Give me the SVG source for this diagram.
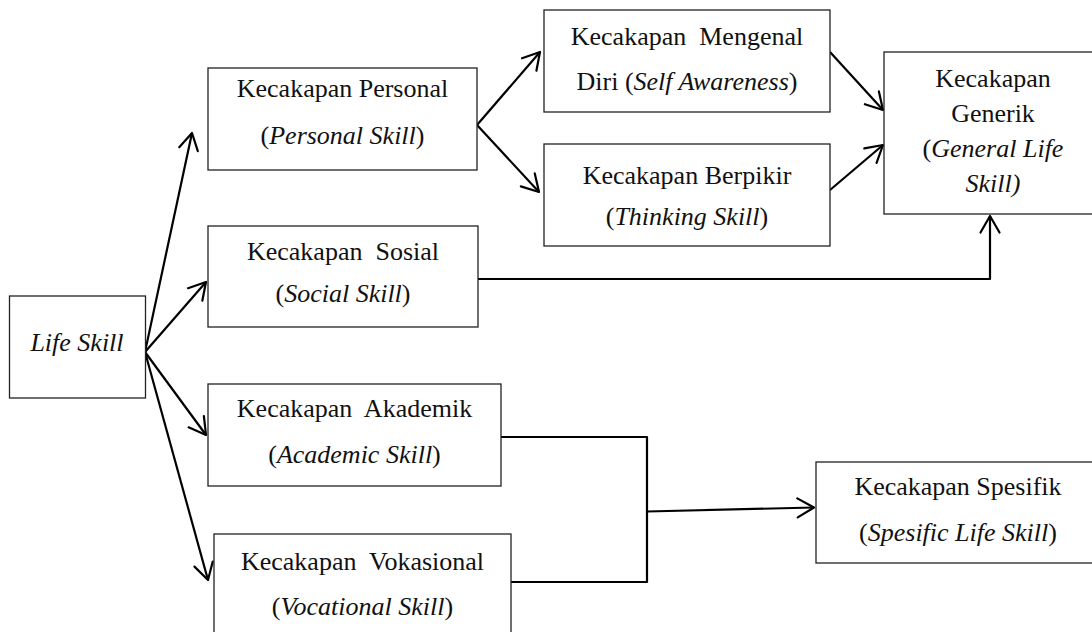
<svg xmlns="http://www.w3.org/2000/svg" width="1092" height="632" viewBox="0 0 1092 632">
<style>
.box{fill:#fff;stroke:#222;stroke-width:1.3}
.t{font-family:"Liberation Serif","Times New Roman",serif;font-size:26px;fill:#111;text-anchor:middle;white-space:pre}
.i{font-style:italic}
.c{fill:none;stroke:#000;stroke-width:2.2;stroke-linejoin:round}
</style>
<defs>
<marker id="ah" markerUnits="userSpaceOnUse" markerWidth="40" markerHeight="40" viewBox="-20 -20 40 40" refX="0" refY="0" orient="auto">
<path d="M-16.5,-9.5 L0,0 L-16.5,9.5" fill="none" stroke="#000" stroke-width="2.2" stroke-linejoin="round" stroke-linecap="round"/>
</marker>
</defs>
<rect width="1092" height="632" fill="#fff"/>
<g id="connectors">
<path class="c" d="M145,352 L192,133" marker-end="url(#ah)"/>
<path class="c" d="M145,352 L206,282" marker-end="url(#ah)"/>
<path class="c" d="M145,352 L206,435" marker-end="url(#ah)"/>
<path class="c" d="M145,352 L208,580" marker-end="url(#ah)"/>
<path class="c" d="M477,125 L540,52" marker-end="url(#ah)"/>
<path class="c" d="M477,125 L539,192" marker-end="url(#ah)"/>
<path class="c" d="M830,52 L883,110" marker-end="url(#ah)"/>
<path class="c" d="M830,190 L883,145" marker-end="url(#ah)"/>
<path class="c" d="M478,279 L990,279 L990,216" marker-end="url(#ah)"/>
<path class="c" d="M501,437 L647,437 L647,582 L511,582"/>
<path class="c" d="M647,511.5 L814,507.5" marker-end="url(#ah)"/>
</g>
<g id="life-skill">
<rect class="box" x="9.5" y="296" width="136" height="102"/>
<text class="t i" x="77" y="351">Life Skill</text>
</g>
<g id="personal">
<rect class="box" x="208" y="68" width="269" height="102"/>
<text class="t" x="342.5" y="97">Kecakapan Personal</text>
<text class="t" x="342.5" y="144">(<tspan class="i">Personal Skill</tspan>)</text>
</g>
<g id="mengenal-diri">
<rect class="box" x="544" y="10" width="286" height="102"/>
<text class="t" x="687" y="45">Kecakapan  Mengenal</text>
<text class="t" x="687" y="90">Diri (<tspan class="i">Self Awareness</tspan>)</text>
</g>
<g id="berpikir">
<rect class="box" x="544" y="144" width="286" height="102"/>
<text class="t" x="687" y="184">Kecakapan Berpikir</text>
<text class="t" x="687" y="225">(<tspan class="i">Thinking Skill</tspan>)</text>
</g>
<g id="generik">
<rect class="box" x="884" y="52" width="218" height="162"/>
<text class="t" x="993" y="87">Kecakapan</text>
<text class="t" x="993" y="122">Generik</text>
<text class="t" x="993" y="157">(<tspan class="i">General Life</tspan></text>
<text class="t i" x="993" y="192">Skill)</text>
</g>
<g id="sosial">
<rect class="box" x="208" y="226" width="270" height="101"/>
<text class="t" x="343" y="260">Kecakapan  Sosial</text>
<text class="t" x="343" y="302">(<tspan class="i">Social Skill</tspan>)</text>
</g>
<g id="akademik">
<rect class="box" x="208" y="384" width="293" height="102"/>
<text class="t" x="354.5" y="417">Kecakapan  Akademik</text>
<text class="t" x="354.5" y="463">(<tspan class="i">Academic Skill</tspan>)</text>
</g>
<g id="vokasional">
<rect class="box" x="214" y="534" width="297" height="110"/>
<text class="t" x="362.5" y="570">Kecakapan  Vokasional</text>
<text class="t" x="362.5" y="615">(<tspan class="i">Vocational Skill</tspan>)</text>
</g>
<g id="spesifik">
<rect class="box" x="816" y="462" width="286" height="101"/>
<text class="t" x="958" y="495">Kecakapan Spesifik</text>
<text class="t" x="958" y="541">(<tspan class="i">Spesific Life Skill</tspan>)</text>
</g>
</svg>
